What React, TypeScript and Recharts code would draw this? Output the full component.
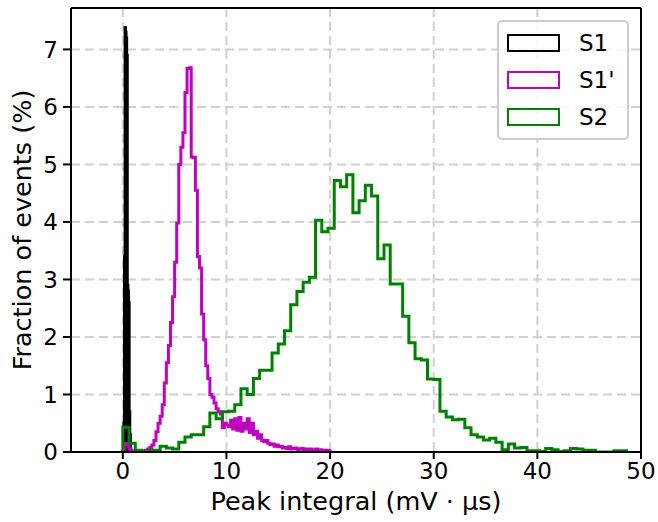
import { LineChart, Line, XAxis, YAxis, CartesianGrid, ReferenceLine } from 'recharts'

// bin layout for each histogram (start, width) and the heights, in %
const s1Start = 0.1
const s1Width = 0.03
const s1Heights = [0.5, 0, 3.4, 0, 7.38, 0, 7.3, 0, 7.2, 0, 6.9, 0, 2.9, 0, 2.8, 0, 2.6, 0, 0.7, 0, 0.3, 0]

const s1pStart = 0
const s1pWidth = 0.2
const s1pHeights = [
  0.02, 0.15, 0.12, 0.05, 0.02, 0.01, 0.01, 0.02, 0.01, 0.02,
  0.02, 0.03, 0.05, 0.08, 0.12, 0.2, 0.35, 0.5, 0.62, 0.82,
  1.2, 1.55, 1.85, 2.25, 2.7, 3.3, 3.98, 5.0, 5.3, 5.55,
  6.25, 6.67, 6.68, 5.13, 5.12, 4.55, 3.4, 3.2, 2.4, 1.95,
  1.5, 1.28, 1.0, 0.95, 0.85, 0.75, 0.7, 0.66, 0.42, 0.5,
  0.47, 0.44, 0.55, 0.4, 0.58, 0.38, 0.6, 0.36, 0.5, 0.4,
  0.58, 0.34, 0.5, 0.3, 0.36, 0.24, 0.3, 0.2, 0.18, 0.2,
  0.15, 0.13, 0.14, 0.1, 0.12, 0.09, 0.1, 0.07, 0.08, 0.06,
  0.09, 0.05, 0.06, 0.07, 0.04, 0.05, 0.06, 0.03, 0.05, 0.04,
  0.05, 0.03, 0.04, 0.05, 0.03, 0.04, 0.03, 0.02, 0.03, 0.02,
]

const s2Start = 0
const s2Width = 0.6
const s2Heights = [
  0.43, 0.15, 0.03, 0.01, 0.02, 0.03, 0.1, 0.07, 0.05, 0.17,
  0.26, 0.3, 0.3, 0.44, 0.68, 0.58, 0.7, 0.71, 0.82, 1.1,
  1.0, 1.28, 1.42, 1.42, 1.72, 1.88, 2.11, 2.56, 2.79, 2.95,
  3.04, 4.03, 3.83, 3.89, 4.72, 4.61, 4.82, 4.16, 4.37, 4.64,
  4.45, 3.36, 3.6, 2.92, 2.92, 2.36, 1.9, 1.62, 1.6, 1.27,
  1.26, 0.71, 0.61, 0.56, 0.57, 0.42, 0.3, 0.26, 0.21, 0.24,
  0.17, 0.04, 0.14, 0.07, 0.08, 0.02, 0.02, 0.01, 0.06, 0.04,
  0.01, 0.02, 0.06, 0.05, 0.03, 0.03, 0, 0, 0, 0.02,
  0.02,
]

const seriesNames = ['S1', "S1'", 'S2']
const seriesColors = ['#000000', '#bf00bf', '#008000']

const xDomain = [-5, 50]
const yDomain = [0, 7.72]
const xTicks = [0, 10, 20, 30, 40, 50]
const yTicks = [0, 1, 2, 3, 4, 5, 6, 7]

// turn bin heights into an outline like matplotlib's histtype='step'
function stepOutline(start: number, width: number, heights: number[]) {
  const pts = [{ x: start, y: 0 }]
  heights.forEach((h, i) => pts.push({ x: start + i * width, y: h }))
  pts.push({ x: start + heights.length * width, y: 0 })
  return pts
}

const outlines = [
  stepOutline(s1Start, s1Width, s1Heights),
  stepOutline(s1pStart, s1pWidth, s1pHeights),
  stepOutline(s2Start, s2Width, s2Heights),
]

const font = 'DejaVu Sans'

function LegendBox() {
  return (
    <div
      style={{
        position: 'absolute',
        left: 497,
        top: 20,
        width: 132,
        height: 120,
        border: '2px solid #cccccc',
        borderRadius: 5,
        background: 'rgba(255,255,255,0.8)',
        boxSizing: 'border-box',
        fontFamily: font,
      }}
    >
      {seriesNames.map((name, i) => (
        <div key={name} style={{ position: 'absolute', left: 8, top: 11 + i * 37, display: 'flex', alignItems: 'center' }}>
          <div style={{ width: 53, height: 18, border: `2.7px solid ${seriesColors[i]}`, boxSizing: 'border-box' }} />
          <span style={{ marginLeft: 19, fontSize: 23, color: '#000', lineHeight: '20px' }}>{name}</span>
        </div>
      ))}
    </div>
  )
}

export default function App() {
  const tickStyle = { fontSize: 23, fontFamily: font, fill: '#000' }
  const labelStyle = { fontSize: 25.5, fontFamily: font, fill: '#000' }
  return (
    <div style={{ position: 'absolute', left: 0, top: 0, width: 658, height: 522, background: '#fff' }}>
      <LineChart width={658} height={522} margin={{ top: 8, right: 17, bottom: 10, left: 0 }}>
        <CartesianGrid stroke="#d0d0d0" strokeWidth={2} strokeDasharray="9 5" />
        <XAxis
          type="number"
          dataKey="x"
          domain={xDomain}
          ticks={xTicks}
          allowDataOverflow
          height={60}
          tick={tickStyle}
          tickSize={7}
          tickMargin={4}
          axisLine={{ stroke: '#000', strokeWidth: 2 }}
          tickLine={{ stroke: '#000', strokeWidth: 2 }}
          label={{ value: 'Peak integral (mV · \u03bcs)', position: 'insideBottom', offset: 2, style: labelStyle }}
        />
        <YAxis
          type="number"
          domain={yDomain}
          ticks={yTicks}
          allowDataOverflow
          width={71}
          tick={tickStyle}
          tickSize={8}
          tickMargin={5}
          axisLine={{ stroke: '#000', strokeWidth: 2 }}
          tickLine={{ stroke: '#000', strokeWidth: 2 }}
          label={{ value: 'Fraction of events (%)', angle: -90, position: 'insideLeft', offset: 22, style: { ...labelStyle, textAnchor: 'middle' } }}
        />
        {outlines.map((data, i) => (
          <Line
            key={seriesNames[i]}
            data={data}
            dataKey="y"
            name={seriesNames[i]}
            type="stepAfter"
            stroke={seriesColors[i]}
            strokeWidth={3}
            dot={false}
            activeDot={false}
            isAnimationActive={false}
          />
        ))}
        {/* top and right sides of the axes frame */}
        <ReferenceLine y={yDomain[1]} stroke="#000" strokeWidth={2} ifOverflow="visible" />
        <ReferenceLine x={xDomain[1]} stroke="#000" strokeWidth={2} ifOverflow="visible" />
      </LineChart>
      <LegendBox />
    </div>
  )
}
